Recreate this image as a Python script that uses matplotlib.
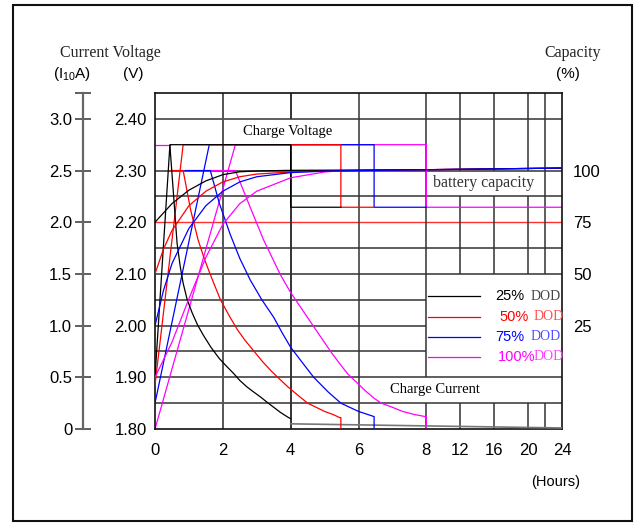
import numpy as np
import matplotlib
matplotlib.use('Agg')
import matplotlib.pyplot as plt
from matplotlib.patches import Rectangle

# ---------------- data ----------------
hour_ticks = [0, 2, 4, 6, 8, 12, 16, 20, 24]
hour_labels = ['0', '2', '4', '6', '8', '12', '16', '20', '24']
volt_ticks = [1.80, 1.90, 2.00, 2.10, 2.20, 2.30, 2.40]
volt_labels = ['1.80', '1.90', '2.00', '2.10', '2.20', '2.30', '2.40']
current_ticks = [0, 0.5, 1.0, 1.5, 2.0, 2.5, 3.0]
current_labels = ['0', '0.5', '1.0', '1.5', '2.0', '2.5', '3.0']
capacity_ticks = [25, 50, 75, 100]
capacity_labels = ['25', '50', '75', '100']
dod_labels = ['25%', '50%', '75%', '100%']

# charge voltage (V/cell)
volt_t_25 = [0, 0.44, 4.0, 4.0, 5.48]
volt_v_25 = [1.90, 2.35, 2.35, 2.229, 2.229]
volt_t_50 = [0, 0.83, 5.48, 5.48, 6.46]
volt_v_50 = [1.885, 2.35, 2.35, 2.229, 2.229]
volt_t_75 = [0, 1.60, 6.46, 6.46, 8.0]
volt_v_75 = [1.85, 2.35, 2.35, 2.229, 2.229]
volt_t_100 = [0, 2.37, 8.0, 8.0, 24]
volt_v_100 = [1.80, 2.35, 2.35, 2.229, 2.229]
limit_t = [0, 0.44]
limit_v = [2.35, 2.35]

# charge current (I10A)
cur_t_25 = [0.44, 0.55, 0.65, 0.74, 0.83, 0.95, 1.1, 1.25, 1.42, 1.65, 1.9, 2.1,
            2.31, 2.5, 2.7, 2.9, 3.11, 3.3, 3.5, 3.7, 3.94, 4.0]
cur_i_25 = [2.74, 2.25, 1.80, 1.58, 1.41, 1.25, 1.12, 1.01, 0.91, 0.79, 0.68, 0.61,
            0.54, 0.47, 0.41, 0.36, 0.31, 0.26, 0.21, 0.16, 0.11, 0.10]
cur_t_50 = [0.47, 0.83, 1.05, 1.27, 1.45, 1.6, 1.77, 1.93, 2.18, 2.43, 2.65, 2.9,
            3.15, 3.4, 3.65, 3.91, 4.2, 4.5, 4.75, 5.0, 5.25, 5.45, 5.48, 5.48]
cur_i_50 = [2.50, 2.50, 2.12, 1.83, 1.65, 1.52, 1.38, 1.25, 1.10, 0.96, 0.86, 0.76,
            0.66, 0.57, 0.49, 0.41, 0.33, 0.25, 0.21, 0.17, 0.14, 0.11, 0.11, 0.01]
cur_t_75 = [0.89, 1.63, 1.9, 2.22, 2.5, 2.81, 3.15, 3.5, 3.75, 4.0, 4.35, 4.68,
            5.1, 5.48, 6.0, 6.46, 6.46]
cur_i_75 = [2.50, 2.50, 2.18, 1.88, 1.65, 1.44, 1.25, 1.08, 0.93, 0.79, 0.64, 0.50,
            0.36, 0.25, 0.17, 0.12, 0.01]
cur_t_100 = [1.63, 2.37, 2.8, 3.2, 3.45, 3.7, 4.0, 4.35, 4.68, 4.95, 5.2, 5.45,
             5.69, 5.95, 6.2, 6.45, 6.67, 7.0, 7.3, 7.65, 7.97, 8.0, 8.0]
cur_i_100 = [2.50, 2.50, 2.15, 1.83, 1.66, 1.49, 1.32, 1.15, 0.99, 0.86, 0.74, 0.63,
             0.53, 0.45, 0.37, 0.30, 0.25, 0.21, 0.17, 0.14, 0.12, 0.12, 0.01]
tail_t = [4.0, 24]
tail_i = [0.05, 0.01]

# charged capacity (%)
cap_t_25 = [0, 0.25, 0.5, 1.0, 1.5, 2.0, 2.5, 3.0, 4.0, 8, 16, 24]
cap_c_25 = [75, 79.5, 84, 90.5, 95, 98, 99.4, 99.8, 100.1, 100.4, 100.8, 101.2]
cap_t_50 = [0, 0.25, 0.5, 1.0, 1.5, 2.0, 2.5, 3.0, 4.0, 5.0, 8, 16, 24]
cap_c_50 = [50, 62, 71, 83, 90, 94.5, 97, 98.3, 99.3, 99.8, 100.4, 100.8, 101.2]
cap_t_75 = [0, 0.25, 0.5, 1.0, 1.5, 2.0, 2.5, 3.0, 4.0, 5.0, 6.0, 8, 16, 24]
cap_c_75 = [25, 42, 55, 72, 83, 90, 94.5, 97, 99, 99.7, 100, 100.4, 100.8, 101.2]
cap_t_100 = [0, 0.5, 1.0, 1.5, 2.0, 2.5, 3.0, 4.0, 5.0, 5.5, 8, 16, 24]
cap_c_100 = [0, 17, 38, 58, 74, 84, 90, 96.5, 99.3, 100, 100.4, 100.8, 101.2]

# ---------------- style ----------------
C_BLK, C_RED, C_BLU, C_MAG = '#000000', '#ff0000', '#0000ff', '#ff00ff'
GRID = '#333333'
W, H, DPI = 643, 523, 100
SANS = 'Liberation Sans'
SERIF = 'Liberation Serif'
plt.rcParams['font.family'] = [SANS, 'DejaVu Sans']
plt.rcParams['mathtext.fontset'] = 'custom'
plt.rcParams['mathtext.rm'] = SANS

fig = plt.figure(figsize=(W / DPI, H / DPI), dpi=DPI)
fig.patch.set_facecolor('white')

def px(x, y):
    return x / W, 1 - y / H

L, R, T, B = 155, 562, 93, 429
ax = fig.add_axes([L / W, 1 - B / H, (R - L) / W, (B - T) / H])

def fwd(h):
    h = np.asarray(h, dtype=float)
    return np.where(h <= 8, h, 8 + (h - 8) / 4.0)

def inv(u):
    u = np.asarray(u, dtype=float)
    return np.where(u <= 8, u, 8 + (u - 8) * 4.0)

ax.set_xscale('function', functions=(fwd, inv))
ax.set_xlim(0, 24)
ax.set_ylim(1.80, 2.45)
ax.set_xticks(hour_ticks)
ax.set_xticklabels(hour_labels)
ax.set_yticks(volt_ticks)
ax.set_yticklabels(volt_labels)
ax.minorticks_off()
ax.tick_params(axis='both', length=0, labelsize=12)
ax.tick_params(axis='x', pad=10)
ax.tick_params(axis='y', pad=6)
for s in ax.spines.values():
    s.set_linewidth(1.2)
    s.set_color('#111111')

# grid lines (manual, with gaps where the chart has label boxes)
glw = 1.1
full_h = [2.40, 2.30, 2.25, 2.15, 2.10, 1.90, 1.85]
for v in full_h:
    ax.hlines(v, 0, 24, color=GRID, lw=glw, zorder=1)
for v in [2.05, 2.00, 1.95]:
    ax.hlines(v, 0, 8, color=GRID, lw=glw, zorder=1)
ax.hlines(2.20, 0, 24, color='#ff3030', lw=1.0, zorder=1)
ax.vlines(2, 1.80, 2.45, color='#555555', lw=1.4, zorder=1)
ax.vlines(4, 1.80, 2.35, color='#333333', lw=1.4, zorder=1)
ax.vlines(4, 2.40, 2.45, color='#333333', lw=1.4, zorder=1)
ax.vlines(6, 1.80, 2.45, color=GRID, lw=glw, zorder=1)
ax.vlines(8, 1.90, 2.45, color=GRID, lw=glw, zorder=1)
ax.vlines(8, 1.80, 1.85, color=GRID, lw=glw, zorder=1)
for h in [12, 16, 20]:
    ax.vlines(h, 2.30, 2.45, color=GRID, lw=glw, zorder=1)
    ax.vlines(h, 2.10, 2.25, color=GRID, lw=glw, zorder=1)
    ax.vlines(h, 1.80, 1.85, color=GRID, lw=glw, zorder=1)
ax.vlines(22, 2.10, 2.45, color=GRID, lw=glw, zorder=1)
ax.vlines(22, 1.80, 1.85, color=GRID, lw=glw, zorder=1)

# voltage curves
clw = 0.9
ax.plot(limit_t, limit_v, color=C_MAG, lw=clw, zorder=2)
ax.plot(volt_t_100, volt_v_100, color=C_MAG, lw=clw, zorder=2)
ax.plot(volt_t_75, volt_v_75, color=C_BLU, lw=clw, zorder=3)
ax.plot(volt_t_50, volt_v_50, color=C_RED, lw=clw, zorder=4)
ax.plot(volt_t_25, volt_v_25, color=C_BLK, lw=clw, zorder=5)

# current axis (left, separate spine)
axc = ax.twinx()
axc.set_ylim(0, 3.25)
axc.set_xlim(ax.get_xlim())
for k, s in axc.spines.items():
    s.set_visible(k == 'left')
axc.spines['left'].set_position(('axes', -0.178))
axc.spines['left'].set_color('#666666')
axc.spines['left'].set_linewidth(1.6)
axc.yaxis.set_ticks_position('left')
axc.yaxis.set_label_position('left')
axc.set_yticks(current_ticks + [3.25])
axc.set_yticklabels(current_labels + [''])
axc.tick_params(axis='y', direction='inout', length=11, width=1.2, color='#444444',
                labelsize=12, pad=2)
axc.plot(cur_t_100, cur_i_100, color=C_MAG, lw=clw, zorder=2)
axc.plot(cur_t_75, cur_i_75, color=C_BLU, lw=clw, zorder=3)
axc.plot(cur_t_50, cur_i_50, color=C_RED, lw=clw, zorder=4)
axc.plot(cur_t_25, cur_i_25, color=C_BLK, lw=clw, zorder=5)
axc.plot(tail_t, tail_i, color='#777777', lw=1.2, zorder=2)

# capacity axis (right)
axp = ax.twinx()
axp.set_ylim(-25, 137.5)
axp.set_xlim(ax.get_xlim())
for s in axp.spines.values():
    s.set_visible(False)
axp.set_yticks(capacity_ticks)
axp.set_yticklabels(capacity_labels)
axp.tick_params(axis='y', length=0, labelsize=12, pad=8)
axp.plot(cap_t_100, cap_c_100, color=C_MAG, lw=clw, zorder=2)
axp.plot(cap_t_50, cap_c_50, color=C_RED, lw=clw, zorder=3)
axp.plot(cap_t_25, cap_c_25, color=C_BLK, lw=clw, zorder=4)
axp.plot(cap_t_75, cap_c_75, color=C_BLU, lw=clw, zorder=5)

# in-chart labels
fig.text(*px(288, 132), 'Charge Voltage', family=SERIF, fontsize=10.5,
         ha='center', va='center')
fig.text(*px(435, 389), 'Charge Current', family=SERIF, fontsize=10.5,
         ha='center', va='center')
fig.text(*px(484, 183), 'battery capacity', family=SERIF, fontsize=11.5,
         ha='center', va='center', color='#333333')

# legend (manual)
leg_y = [296, 317, 337, 357]
leg_cols = [C_BLK, C_RED, C_BLU, C_MAG]
dod_cols = ['#444444', '#ff5050', '#5050ff', '#ff40ff']
pct_x = [510, 514, 510, 517]
dod_x = [546, 549, 546, 549]
for i in range(4):
    y = leg_y[i]
    fig.add_artist(plt.Line2D([428 / W, 480 / W], [1 - y / H, 1 - y / H],
                              color=leg_cols[i], lw=clw))
    fig.text(*px(pct_x[i], y), dod_labels[i], fontsize=10.5, color=leg_cols[i],
             ha='center', va='center')
    fig.text(*px(dod_x[i], y), 'DOD', family=SERIF, fontsize=10, color=dod_cols[i],
             ha='center', va='center')

# axis titles
fig.text(*px(110, 53), 'Current Voltage', family=SERIF, fontsize=11.5,
         ha='center', va='center', color='#222222')
fig.text(*px(72, 74), r'(I$_{\mathrm{10}}$A)', fontsize=11, ha='center', va='center')
fig.text(*px(133, 74), '(V)', fontsize=11, ha='center', va='center')
fig.text(*px(573, 53), 'Capacity', family=SERIF, fontsize=11.5,
         ha='center', va='center', color='#222222')
fig.text(*px(568, 74), '(%)', fontsize=11, ha='center', va='center')
fig.text(*px(556, 482), '(Hours)', fontsize=10.5, ha='center', va='center')

# outer frame
fig.add_artist(Rectangle((13 / W, 1 - 521 / H), (632 - 13) / W, (521 - 5) / H,
                         transform=fig.transFigure, fill=False, ec='#111111', lw=1.5))

fig.savefig('out.png', dpi=DPI, facecolor='white')
